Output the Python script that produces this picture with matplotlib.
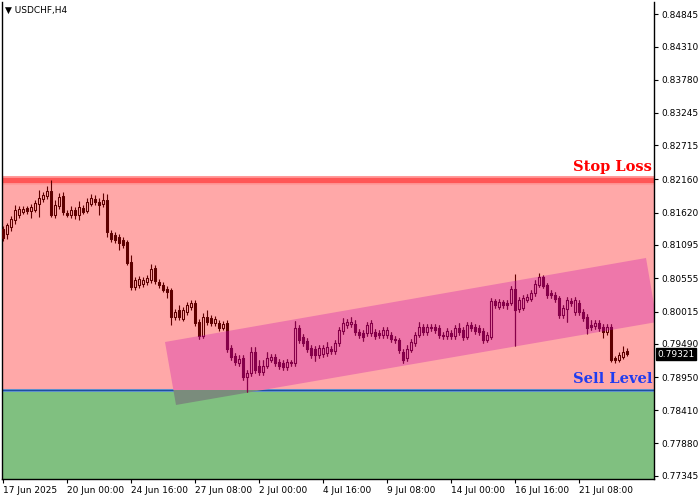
import matplotlib
matplotlib.use('Agg')
import matplotlib.pyplot as plt
from matplotlib.patches import Rectangle, Polygon
from matplotlib.collections import LineCollection, PatchCollection
import matplotlib.transforms as mtransforms

# USDCHF H4 candles, 17 Jun 2025 08:00 .. 23 Jul 2025
opens = [0.8135, 0.8127, 0.8139, 0.8150, 0.8158, 0.8163, 0.8170, 0.8165, 0.8166, 0.8176,
         0.8184, 0.8189, 0.8197, 0.8158, 0.8173, 0.8189, 0.8161, 0.8158, 0.8166, 0.8158,
         0.8170, 0.8165, 0.8176, 0.8184, 0.8179, 0.8176, 0.8182, 0.8129, 0.8126, 0.8122,
         0.8118, 0.8114, 0.8082, 0.8041, 0.8045, 0.8046, 0.8049, 0.8053, 0.8072, 0.8049,
         0.8045, 0.8038, 0.8036, 0.7993, 0.8004, 0.7989, 0.8001, 0.8009, 0.8015, 0.7984,
         0.7962, 0.7993, 0.7991, 0.7983, 0.7983, 0.7975, 0.7983, 0.7942, 0.7929, 0.7918,
         0.7926, 0.7895, 0.7902, 0.7936, 0.7913, 0.7903, 0.7913, 0.7923, 0.7928, 0.7920,
         0.7918, 0.7911, 0.7918, 0.7918, 0.7975, 0.7960, 0.7954, 0.7942, 0.7941, 0.7931,
         0.7933, 0.7934, 0.7941, 0.7937, 0.7950, 0.7970, 0.7980, 0.7981, 0.7981, 0.7968,
         0.7967, 0.7967, 0.7967, 0.7968, 0.7967, 0.7963, 0.7963, 0.7963, 0.7957, 0.7955,
         0.7936, 0.7926, 0.7939, 0.7950, 0.7963, 0.7976, 0.7968, 0.7976, 0.7976, 0.7975,
         0.7963, 0.7962, 0.7967, 0.7962, 0.7975, 0.7971, 0.7960, 0.7980, 0.7976, 0.7975,
         0.7970, 0.7955, 0.7960, 0.8019, 0.8009, 0.8017, 0.8015, 0.8015, 0.8038, 0.8006,
         0.8007, 0.8020, 0.8022, 0.8032, 0.8045, 0.8058, 0.8045, 0.8032, 0.8028, 0.8023,
         0.7996, 0.8006, 0.8019, 0.8001, 0.8015, 0.8001, 0.7993, 0.7980, 0.7978, 0.7983,
         0.7976, 0.7968, 0.7976, 0.7926, 0.7923, 0.7928, 0.7937]
closes = [0.8121, 0.8142, 0.8152, 0.8166, 0.8168, 0.8168, 0.8165, 0.8171, 0.8178, 0.8186,
          0.8191, 0.8197, 0.8158, 0.8174, 0.8187, 0.8163, 0.8158, 0.8166, 0.8158, 0.8171,
          0.8163, 0.8179, 0.8186, 0.8179, 0.8174, 0.8182, 0.8131, 0.8119, 0.8118, 0.8113,
          0.8109, 0.8080, 0.8041, 0.8053, 0.8054, 0.8053, 0.8056, 0.8071, 0.8051, 0.8045,
          0.8036, 0.8033, 0.7993, 0.8001, 0.7993, 0.8004, 0.8012, 0.8015, 0.7983, 0.7962,
          0.7993, 0.7984, 0.7983, 0.7989, 0.7975, 0.7981, 0.7941, 0.7928, 0.7920, 0.7924,
          0.7895, 0.7902, 0.7936, 0.7907, 0.7903, 0.7913, 0.7926, 0.7928, 0.7918, 0.7913,
          0.7911, 0.7920, 0.7920, 0.7975, 0.7955, 0.7950, 0.7941, 0.7931, 0.7931, 0.7942,
          0.7942, 0.7944, 0.7937, 0.7950, 0.7971, 0.7983, 0.7984, 0.7984, 0.7968, 0.7963,
          0.7960, 0.7980, 0.7983, 0.7962, 0.7963, 0.7971, 0.7971, 0.7957, 0.7955, 0.7939,
          0.7923, 0.7941, 0.7952, 0.7963, 0.7976, 0.7968, 0.7976, 0.7975, 0.7971, 0.7963,
          0.7962, 0.7970, 0.7962, 0.7975, 0.7968, 0.7960, 0.7980, 0.7975, 0.7970, 0.7968,
          0.7955, 0.7963, 0.8019, 0.8012, 0.8017, 0.8012, 0.8012, 0.8038, 0.8004, 0.8020,
          0.8023, 0.8025, 0.8032, 0.8046, 0.8058, 0.8043, 0.8028, 0.8028, 0.8022, 0.7996,
          0.8007, 0.8020, 0.8015, 0.8020, 0.8001, 0.7991, 0.7975, 0.7976, 0.7983, 0.7975,
          0.7968, 0.7976, 0.7923, 0.7923, 0.7931, 0.7936, 0.79321]
highs = [0.8140, 0.8145, 0.8157, 0.8174, 0.8173, 0.8173, 0.8173, 0.8176, 0.8183, 0.8199,
         0.8196, 0.8205, 0.8215, 0.8182, 0.8194, 0.8196, 0.8166, 0.8173, 0.8171, 0.8181,
         0.8174, 0.8186, 0.8192, 0.8191, 0.8186, 0.8194, 0.8192, 0.8134, 0.8131, 0.8127,
         0.8122, 0.8118, 0.8093, 0.8058, 0.8059, 0.8058, 0.8061, 0.8079, 0.8077, 0.8054,
         0.8049, 0.8043, 0.8040, 0.8006, 0.8012, 0.8009, 0.8017, 0.8020, 0.8020, 0.7989,
         0.7999, 0.8004, 0.7996, 0.7994, 0.7988, 0.7986, 0.7988, 0.7947, 0.7934, 0.7931,
         0.7931, 0.7907, 0.7944, 0.7944, 0.7923, 0.7923, 0.7936, 0.7933, 0.7933, 0.7924,
         0.7923, 0.7924, 0.7923, 0.7986, 0.7980, 0.7965, 0.7959, 0.7947, 0.7946, 0.7947,
         0.7947, 0.7952, 0.7946, 0.7955, 0.7976, 0.7991, 0.7989, 0.7993, 0.7988, 0.7973,
         0.7971, 0.7985, 0.7988, 0.7973, 0.7971, 0.7976, 0.7976, 0.7968, 0.7962, 0.7958,
         0.7941, 0.7947, 0.7957, 0.7968, 0.7984, 0.7981, 0.7981, 0.7981, 0.7981, 0.7980,
         0.7968, 0.7975, 0.7971, 0.7980, 0.7983, 0.7976, 0.7985, 0.7985, 0.7981, 0.7980,
         0.7975, 0.7968, 0.8024, 0.8022, 0.8022, 0.8020, 0.8020, 0.8043, 0.8062, 0.8025,
         0.8028, 0.8030, 0.8036, 0.8053, 0.8064, 0.8061, 0.8048, 0.8036, 0.8033, 0.8027,
         0.8012, 0.8025, 0.8023, 0.8025, 0.8020, 0.8006, 0.7998, 0.7988, 0.7988, 0.7988,
         0.7981, 0.7981, 0.7981, 0.7929, 0.7936, 0.7946, 0.7942]
lows = [0.8116, 0.8119, 0.8132, 0.8144, 0.8153, 0.8160, 0.8160, 0.8153, 0.8163, 0.8155,
        0.8179, 0.8184, 0.8155, 0.8153, 0.8168, 0.8158, 0.8155, 0.8153, 0.8152, 0.8150,
        0.8160, 0.8161, 0.8173, 0.8174, 0.8158, 0.8171, 0.8122, 0.8114, 0.8113, 0.8101,
        0.8105, 0.8077, 0.8036, 0.8036, 0.8040, 0.8041, 0.8045, 0.8048, 0.8046, 0.8040,
        0.8033, 0.8023, 0.7980, 0.7988, 0.7988, 0.7986, 0.7996, 0.8004, 0.7978, 0.7957,
        0.7958, 0.7980, 0.7978, 0.7978, 0.7970, 0.7971, 0.7936, 0.7923, 0.7915, 0.7913,
        0.7890, 0.7871, 0.7897, 0.7902, 0.7898, 0.7898, 0.7910, 0.7920, 0.7913, 0.7908,
        0.7907, 0.7907, 0.7913, 0.7913, 0.7950, 0.7945, 0.7936, 0.7926, 0.7921, 0.7926,
        0.7928, 0.7929, 0.7933, 0.7933, 0.7946, 0.7965, 0.7975, 0.7976, 0.7963, 0.7958,
        0.7954, 0.7962, 0.7962, 0.7957, 0.7958, 0.7958, 0.7958, 0.7952, 0.7950, 0.7934,
        0.7918, 0.7921, 0.7936, 0.7945, 0.7960, 0.7963, 0.7963, 0.7970, 0.7967, 0.7958,
        0.7957, 0.7957, 0.7957, 0.7957, 0.7963, 0.7955, 0.7957, 0.7970, 0.7965, 0.7963,
        0.7950, 0.7952, 0.7957, 0.8007, 0.8006, 0.8007, 0.8006, 0.8012, 0.7945, 0.8001,
        0.8004, 0.8017, 0.8019, 0.8027, 0.8041, 0.8040, 0.8023, 0.8023, 0.8017, 0.7991,
        0.7991, 0.7985, 0.8010, 0.7996, 0.7996, 0.7986, 0.7965, 0.7971, 0.7973, 0.7970,
        0.7959, 0.7963, 0.7920, 0.7918, 0.7920, 0.7924, 0.7929]

time_ticks = [0, 16, 32, 48, 64, 80, 96, 112, 128, 144]
time_labels = ['17 Jun 2025', '20 Jun 00:00', '24 Jun 16:00', '27 Jun 08:00', '2 Jul 00:00',
               '4 Jul 16:00', '9 Jul 08:00', '14 Jul 00:00', '16 Jul 16:00', '21 Jul 08:00']
price_ticks = [0.84845, 0.84310, 0.83780, 0.83245, 0.82715, 0.82160, 0.81620, 0.81095,
               0.80555, 0.80015, 0.79490, 0.78950, 0.78410, 0.77880, 0.77345]

stop_loss = 0.8215
sell_level = 0.78741
# trend channel corners (bar index, price)
channel_x = [40.5, 160.75, 163.5, 43.25]
channel_y = [0.79520, 0.80884, 0.79845, 0.78498]

y_min, y_max = 0.77296, 0.85040
x_min, x_max = -0.25, 162.75

fig = plt.figure(figsize=(7, 5), dpi=100)
ax = fig.add_axes([2 / 700, 1 - 479 / 500, 652 / 700, 477 / 500])
ax.set_xlim(x_min, x_max)
ax.set_ylim(y_min, y_max)
ax.set_facecolor('white')

# zones
ax.axhspan(sell_level, stop_loss, color='#ffa8a8', lw=0, zorder=0)
ax.axhspan(y_min, sell_level, color='#80c080', lw=0, zorder=0)
ax.axhline(stop_loss, color='#ff9a9a', lw=6.5, zorder=1)
ax.axhline(stop_loss, color='#ff5656', lw=3.8, zorder=1.1)
ax.axhline(sell_level, color='#6e9fd6', lw=2.2, zorder=1)
ax.axhline(sell_level, color='#1f4fa0', lw=1.0, zorder=1.1)

# channel: pink over red zone, grey-green over green zone
pts = list(zip(channel_x, channel_y))
ch_top = Polygon(pts, closed=True, facecolor='#ee77aa', edgecolor='none', zorder=2)
ax.add_patch(ch_top)
clip_top = Rectangle((x_min, sell_level), x_max - x_min, y_max - sell_level, transform=ax.transData)
ch_top.set_clip_path(clip_top)
ch_bot = Polygon(pts, closed=True, facecolor='#7a8c7c', edgecolor='none', zorder=2)
ax.add_patch(ch_bot)
clip_bot = Rectangle((x_min, y_min), x_max - x_min, sell_level - y_min, transform=ax.transData)
ch_bot.set_clip_path(clip_bot)
ch_clip = Polygon(pts, closed=True, transform=ax.transData)


def draw_candles(color, clip=None):
    segs = []
    bodies = []
    faces = []
    for i in range(len(closes)):
        o, c, h, l = opens[i], closes[i], highs[i], lows[i]
        top, bot = max(o, c), min(o, c)
        segs.append([(i, top), (i, h)])
        segs.append([(i, bot), (i, l)])
        bodies.append(Rectangle((i - 0.3, bot), 0.6, top - bot))
        faces.append('none' if c >= o else color)
    lc = LineCollection(segs, colors=color, linewidths=0.8, zorder=3)
    pc = PatchCollection(bodies, facecolors=faces, edgecolors=color, linewidths=0.75, zorder=3)
    ax.add_collection(lc)
    ax.add_collection(pc)
    if clip is not None:
        lc.set_clip_path(clip)
        pc.set_clip_path(clip)


draw_candles('#5e0000')
draw_candles('#86004a', ch_clip)

ax.text(162.3, stop_loss + 0.0010, 'Stop Loss', color='#ff0000', ha='right', va='bottom',
        fontsize=10.5, fontweight='bold', family='DejaVu Serif', zorder=5)
ax.text(162.3, sell_level + 0.0007, 'Sell Level', color='#1f3cf0', ha='right', va='bottom',
        fontsize=10.5, fontweight='bold', family='DejaVu Serif', zorder=5)

# axes styling
ax.spines['top'].set_visible(False)
for s in ['left', 'right', 'bottom']:
    ax.spines[s].set_linewidth(1.0)
    ax.spines[s].set_color('black')
ax.yaxis.tick_right()
ax.set_yticks(price_ticks)
ax.set_yticklabels(['%.5f' % p for p in price_ticks])
ax.tick_params(axis='y', direction='out', length=3, width=0.8, pad=2, labelsize=6.5)
ax.set_xticks(time_ticks)
ax.set_xticklabels(time_labels, ha='left')
ax.tick_params(axis='x', direction='out', length=3, width=0.8, pad=2, labelsize=6.5)

trans = mtransforms.blended_transform_factory(ax.transAxes, ax.transData)
ax.text(1.005, closes[-1], '%.5f' % closes[-1], transform=trans, color='white', fontsize=6.5,
        va='center', ha='left', zorder=6,
        bbox=dict(boxstyle='square,pad=0.15', facecolor='black', edgecolor='black'))

fig.text(5 / 700, 1 - 10 / 500, '\u25bc USDCHF,H4', fontsize=6.5, va='center', ha='left')

fig.savefig('out.png', dpi=100)
